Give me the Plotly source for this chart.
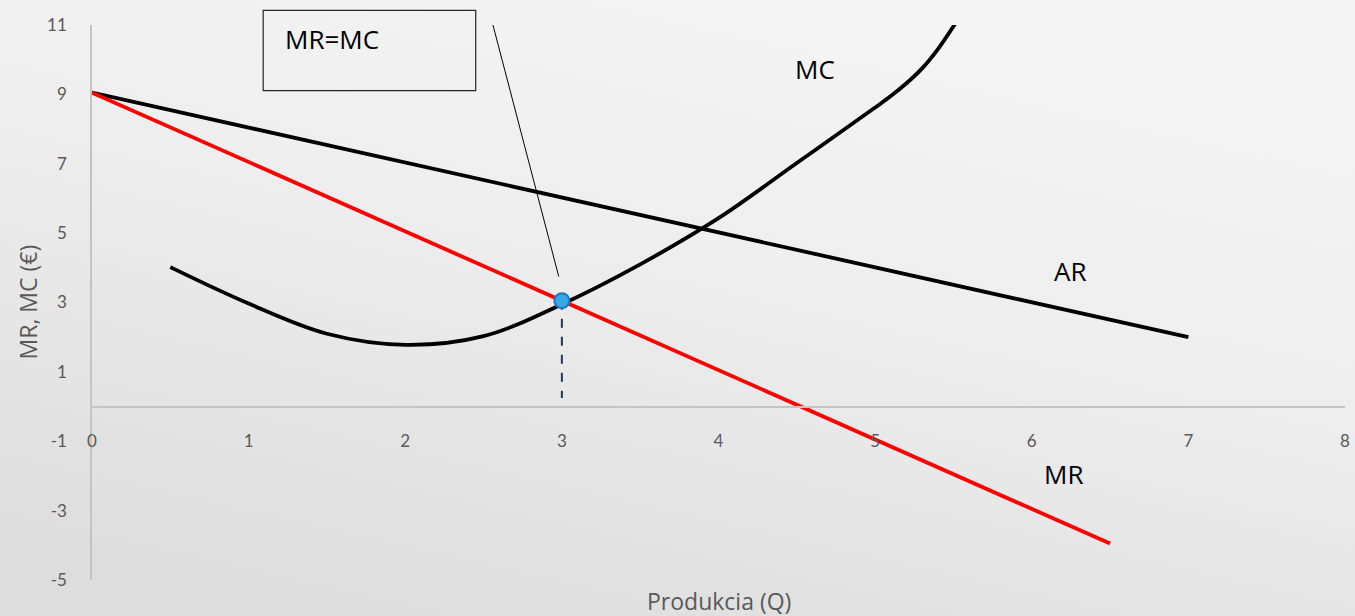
import base64
import plotly.graph_objects as go

# ---- data ----
Q_AR = [0, 7]
AR = [9.05, 2.0]
Q_MR = [0, 6.5]
MR = [9.05, -3.95]
Q_MC = [0.5, 1.0, 1.5, 2.0, 2.5, 3.0, 3.5, 4.0, 4.5, 5.0, 5.1, 5.2, 5.3, 5.4, 5.51]
MC = [4.02, 2.97, 2.10, 1.78, 2.03, 2.95, 4.10, 5.43, 7.02, 8.62, 8.95, 9.32, 9.75, 10.3, 11.03]
Q_OPT = 3
P_OPT = 3.05
X_TICKS = [0, 1, 2, 3, 4, 5, 6, 7, 8]
Y_TICKS = [11, 9, 7, 5, 3, 1, -1, -3, -5]
X_RANGE = [0, 8]
Y_RANGE = [-5, 11]

W, H = 1355, 616
ML, MR_, MT, MB = 92, 10, 25, 36
PW, PH = W - ML - MR_, H - MT - MB


def ypaper(v):
    return (v - Y_RANGE[0]) / (Y_RANGE[1] - Y_RANGE[0])


fig = go.Figure()

# background gradient
svg = (
    '<svg xmlns="http://www.w3.org/2000/svg" width="1355" height="616" preserveAspectRatio="none">'
    '<defs><linearGradient id="g" x1="0.25" y1="1" x2="0.75" y2="0">'
    '<stop offset="0" stop-color="#dddddd"/><stop offset="0.6" stop-color="#efefef"/>'
    '<stop offset="1" stop-color="#f5f5f5"/></linearGradient></defs>'
    '<rect width="1355" height="616" fill="url(#g)"/></svg>'
)
src = "data:image/svg+xml;base64," + base64.b64encode(svg.encode()).decode()
fig.add_layout_image(
    source=src, xref="paper", yref="paper",
    x=-ML / PW, y=1 + MT / PH, sizex=W / PW, sizey=H / PH,
    xanchor="left", yanchor="top", sizing="stretch", layer="below",
)

fig.add_trace(go.Scatter(x=Q_AR, y=AR, mode="lines", line=dict(color="black", width=3.8),
                         hoverinfo="skip"))
fig.add_trace(go.Scatter(x=Q_MR, y=MR, mode="lines", line=dict(color="#ff0000", width=3.8),
                         hoverinfo="skip"))
fig.add_trace(go.Scatter(x=Q_MC, y=MC, mode="lines",
                         line=dict(color="black", width=3.8, shape="spline", smoothing=1.0),
                         hoverinfo="skip", cliponaxis=False))
fig.add_trace(go.Scatter(x=[Q_OPT, Q_OPT], y=[P_OPT, 0.25], mode="lines",
                         line=dict(color="#1f3864", width=2, dash="dash"), hoverinfo="skip"))
fig.add_trace(go.Scatter(x=[Q_OPT], y=[P_OPT], mode="markers",
                         marker=dict(size=15, color="#34a8e8", line=dict(color="#1f78c1", width=2)),
                         hoverinfo="skip", cliponaxis=False))

# pointer line to MR=MC box
fig.add_shape(type="line", xref="x", yref="y", x0=2.56, y0=11.0, x1=2.98, y1=3.75,
              line=dict(color="black", width=1))
# MR=MC box
fig.add_shape(type="rect", xref="x", yref="paper", x0=1.093, x1=2.45,
              y0=ypaper(9.11), y1=ypaper(11.42),
              line=dict(color="#262626", width=1.2), fillcolor="rgba(0,0,0,0)")

lab_font = dict(family="Open Sans", size=26, color="black")
fig.add_annotation(x=1.531, y=ypaper(10.6), xref="x", yref="paper", text="MR=MC",
                   showarrow=False, font=lab_font, xanchor="center", yanchor="middle")
fig.add_annotation(x=4.615, y=9.73, text="MC", showarrow=False, font=lab_font,
                   xanchor="center", yanchor="middle")
fig.add_annotation(x=6.245, y=3.91, text="AR", showarrow=False, font=lab_font,
                   xanchor="center", yanchor="middle")
fig.add_annotation(x=6.20, y=-1.94, text="MR", showarrow=False, font=lab_font,
                   xanchor="center", yanchor="middle")

title_font = dict(family="Open Sans", size=23, color="#595959")
fig.add_annotation(x=(719 - ML) / PW, y=(H - MB - 601) / PH, xref="paper", yref="paper",
                   text="Produkcia (Q)", showarrow=False, font=title_font,
                   xanchor="center", yanchor="middle")
fig.add_annotation(x=(27 - ML) / PW, y=ypaper(3.0), xref="paper", yref="paper",
                   text="MR, MC (€)", textangle=-90, showarrow=False, font=title_font,
                   xanchor="center", yanchor="middle")

tick_font = dict(family="Lato", size=17, color="#595959")
fig.update_layout(
    width=W, height=H,
    margin=dict(l=ML, r=MR_, t=MT, b=MB, pad=0),
    paper_bgcolor="#ececec", plot_bgcolor="rgba(0,0,0,0)",
    showlegend=False,
    xaxis=dict(range=X_RANGE, tickvals=X_TICKS, ticktext=[str(v) for v in X_TICKS],
               anchor="free", position=ypaper(0), showgrid=False, zeroline=False,
               showline=True, linecolor="#c4c4c4", linewidth=1.5, automargin=False,
               ticklabeloverflow="allow",
               ticks="", ticklabelstandoff=19, tickfont=tick_font),
    yaxis=dict(range=Y_RANGE, tickvals=Y_TICKS, ticktext=[str(v) for v in Y_TICKS],
               showgrid=False, zeroline=False, showline=True, linecolor="#c4c4c4",
               linewidth=1.5, automargin=False, ticks="", ticklabelstandoff=20,
               ticklabeloverflow="allow", tickfont=tick_font),
)

fig.write_html(
    "out.html",
    config={"displayModeBar": False},
    post_script="document.body.style.margin='0';document.body.style.overflow='hidden';",
)
